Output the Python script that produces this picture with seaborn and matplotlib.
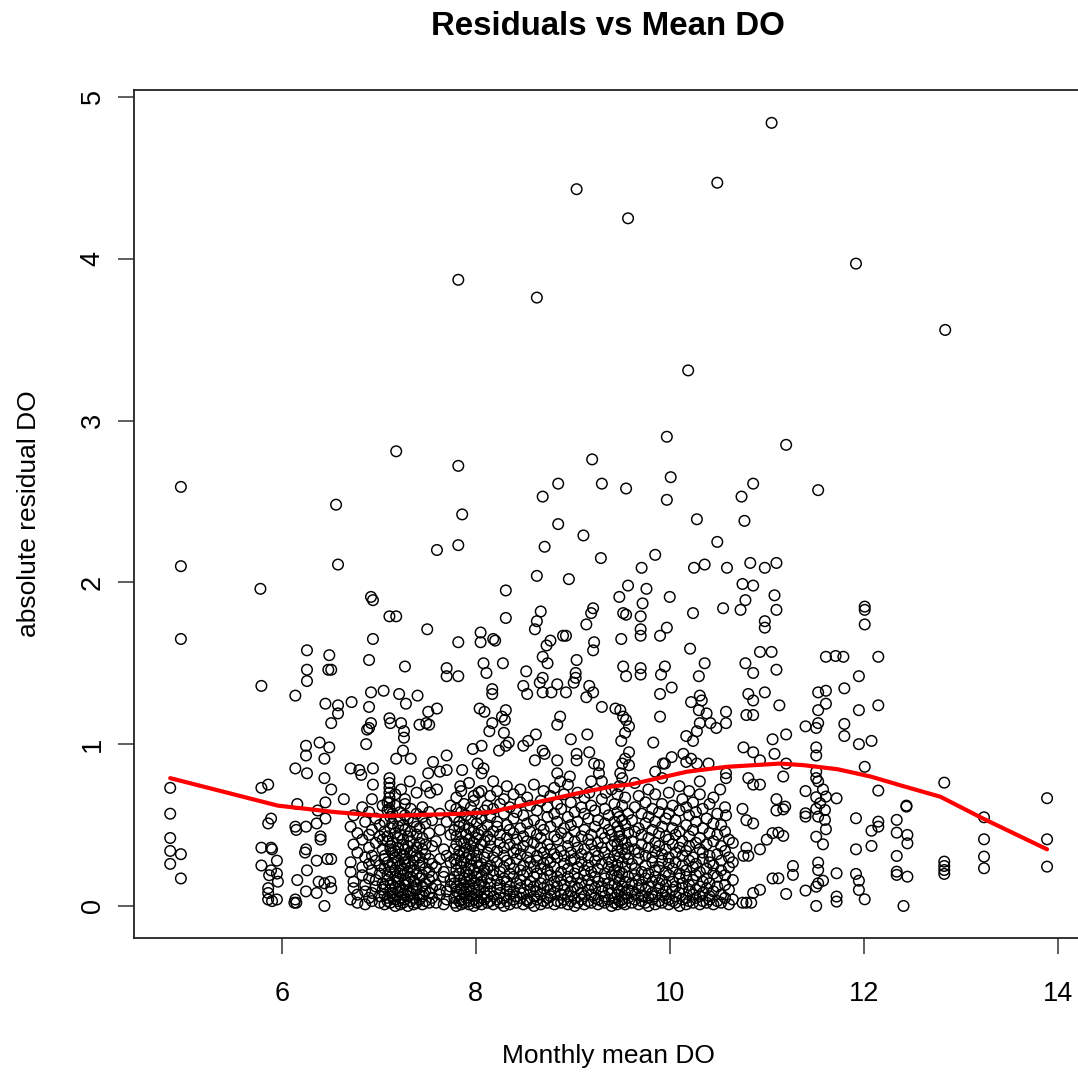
import matplotlib
matplotlib.use("Agg")
import matplotlib.pyplot as plt
import pandas as pd
import seaborn as sns

# ---------------------------------------------------------------
# Monthly mean dissolved oxygen (x) vs absolute model residual (y)
# ---------------------------------------------------------------

# large residuals (>= 2)
upper_do = [11.05, 10.49, 9.04, 9.57, 11.92, 7.82, 8.63, 12.84, 10.19, 9.97,
            11.20, 7.18, 9.20, 7.82, 10.01, 8.85, 9.30, 10.86, 4.96, 9.55,
            11.53, 8.69, 9.97, 10.74, 6.56, 7.86, 10.28, 10.77, 8.85, 9.11,
            10.49, 8.71, 7.82, 7.60, 9.85, 9.29, 4.96, 6.58, 9.71, 10.25,
            10.36, 10.59, 10.83, 10.98, 11.10, 8.63, 8.96]
upper_res = [4.84, 4.47, 4.43, 4.25, 3.97, 3.87, 3.76, 3.56, 3.31, 2.90,
             2.85, 2.81, 2.76, 2.72, 2.65, 2.61, 2.61, 2.61, 2.59, 2.58,
             2.57, 2.53, 2.51, 2.53, 2.48, 2.42, 2.39, 2.38, 2.36, 2.29,
             2.25, 2.22, 2.23, 2.20, 2.17, 2.15, 2.10, 2.11, 2.09, 2.09,
             2.11, 2.09, 2.12, 2.09, 2.12, 2.04, 2.02]

# low-DO sites (below 6.6)
low_do = [5.78, 4.96, 6.26, 6.49, 6.26, 6.48, 6.51, 6.26, 5.79, 6.14,
          6.45, 6.51, 6.25, 6.39, 6.25, 6.49, 6.44, 6.14, 6.26, 6.44,
          6.51, 4.85, 5.79, 5.86, 4.85, 6.16, 6.45, 6.37, 5.89, 5.86,
          6.14, 6.15, 6.25, 6.36, 6.45, 6.40, 6.40, 4.85, 4.85, 4.96,
          4.85, 4.96, 5.79, 5.89, 5.90, 5.79, 5.95, 5.89, 5.87, 5.95,
          5.96, 5.86, 5.86, 5.86, 5.95, 5.90, 6.24, 6.25, 6.36, 6.47,
          6.51, 6.26, 6.16, 6.38, 6.44, 6.50, 6.25, 6.36, 6.13, 6.15,
          6.14, 6.44, 6.51]
low_res = [1.96, 1.65, 1.58, 1.55, 1.46, 1.46, 1.46, 1.39, 1.36, 1.30,
           1.25, 1.13, 0.99, 1.01, 0.93, 0.98, 0.91, 0.85, 0.82, 0.79,
           0.72, 0.73, 0.73, 0.75, 0.57, 0.63, 0.64, 0.59, 0.54, 0.51,
           0.49, 0.47, 0.49, 0.51, 0.54, 0.43, 0.41, 0.42, 0.34, 0.32,
           0.26, 0.17, 0.36, 0.36, 0.35, 0.25, 0.28, 0.22, 0.19, 0.20,
           0.15, 0.11, 0.08, 0.04, 0.04, 0.03, 0.33, 0.35, 0.28, 0.29,
           0.29, 0.22, 0.16, 0.15, 0.14, 0.15, 0.09, 0.08, 0.02, 0.02,
           0.04, 0.00, 0.11]

# mid residuals, 6.6 - 8.2 mg/L
mid_a_do = [6.92, 6.94, 7.11, 7.18, 7.50, 6.94, 7.82, 8.05, 8.05, 6.90,
            7.27, 7.70, 7.82, 7.70, 8.08, 8.11, 6.92, 7.05, 7.21, 7.28,
            7.40, 6.72, 6.58, 6.58, 6.90, 7.11, 7.12, 7.23, 6.92, 6.90,
            6.88, 7.51, 7.60, 7.49, 7.42, 7.52, 7.26, 7.26, 6.87, 7.25,
            7.18, 7.33, 7.70, 7.97, 8.06, 8.02, 8.08, 8.06, 7.56, 7.63,
            7.51, 7.70, 7.86, 6.71, 6.80, 6.94, 6.82, 6.94, 7.11, 7.11,
            7.11, 7.11, 7.11, 7.11, 7.11, 7.23, 7.32, 7.39, 7.27, 7.49,
            7.53, 7.60, 7.84, 6.64, 7.98, 8.06]
mid_a_res = [1.91, 1.89, 1.79, 1.79, 1.71, 1.65, 1.63, 1.69, 1.63, 1.52,
             1.48, 1.47, 1.42, 1.42, 1.50, 1.44, 1.32, 1.33, 1.31, 1.25,
             1.30, 1.26, 1.24, 1.19, 1.23, 1.16, 1.13, 1.13, 1.13, 1.10,
             1.09, 1.20, 1.22, 1.13, 1.12, 1.12, 1.08, 1.04, 1.00, 0.96,
             0.91, 0.91, 0.93, 0.97, 0.99, 0.88, 0.85, 0.82, 0.89, 0.83,
             0.82, 0.84, 0.84, 0.85, 0.84, 0.85, 0.81, 0.75, 0.79, 0.76,
             0.73, 0.70, 0.67, 0.64, 0.60, 0.72, 0.77, 0.70, 0.66, 0.74,
             0.70, 0.72, 0.74, 0.66, 0.68, 0.71]

# mid residuals, 8.0 - 9.6 mg/L
mid_b_do = [8.31, 9.57, 8.31, 8.67, 8.63, 8.61, 9.14, 9.19, 9.21, 9.48,
            9.52, 9.55, 8.18, 8.20, 8.90, 8.93, 8.77, 8.73, 9.22, 9.21,
            8.69, 8.74, 9.04, 8.28, 8.52, 8.49, 8.53, 8.69, 8.66, 8.84,
            8.78, 8.69, 8.93, 9.03, 9.03, 9.01, 9.17, 9.21, 9.14, 9.52,
            9.55, 8.17, 8.17, 9.30, 9.44, 8.04, 8.09, 8.17, 8.14, 8.27,
            8.31, 8.30, 8.29, 8.34, 8.24, 8.31, 8.87, 8.84, 8.98, 9.15,
            8.49, 8.54, 8.62, 8.69, 8.71, 8.61, 8.84, 9.04, 9.04, 9.17,
            9.22, 9.27, 8.84, 8.87, 8.97, 9.27, 9.30, 9.34, 9.17, 9.49]
mid_b_res = [1.95, 1.98, 1.78, 1.82, 1.76, 1.71, 1.74, 1.81, 1.84, 1.91,
             1.81, 1.80, 1.65, 1.64, 1.67, 1.67, 1.64, 1.61, 1.63, 1.58,
             1.54, 1.50, 1.52, 1.50, 1.45, 1.36, 1.31, 1.41, 1.38, 1.37,
             1.32, 1.32, 1.32, 1.44, 1.41, 1.38, 1.36, 1.32, 1.29, 1.48,
             1.42, 1.34, 1.31, 1.23, 1.22, 1.22, 1.20, 1.13, 1.08, 1.17,
             1.21, 1.15, 1.07, 1.01, 0.96, 0.99, 1.17, 1.12, 1.03, 1.06,
             0.99, 1.02, 1.06, 0.96, 0.94, 0.90, 0.90, 0.94, 0.90, 0.95,
             0.88, 0.87, 0.82, 0.77, 0.80, 0.82, 0.77, 0.70, 0.70, 0.82]

# mid residuals, 9.5 - 11.2 mg/L
mid_c_do = [9.76, 10.00, 10.75, 10.86, 10.78, 10.73, 10.55, 11.08, 11.10, 9.72,
            9.70, 9.70, 9.70, 9.90, 9.97, 10.24, 9.50, 10.98, 10.98, 10.21,
            10.93, 11.05, 11.10, 10.36, 10.30, 10.78, 10.86, 9.70, 9.70, 9.95,
            9.91, 9.90, 10.02, 10.81, 10.86, 10.98, 11.13, 10.22, 10.31, 10.33,
            10.30, 10.38, 10.31, 10.28, 10.17, 10.24, 10.42, 10.48, 10.58, 10.58,
            10.79, 10.86, 9.49, 9.52, 9.55, 9.58, 9.54, 9.50, 9.58, 9.54,
            9.58, 9.51, 9.83, 9.90, 9.95, 10.02, 10.14, 10.17, 10.22, 10.28,
            10.40, 10.76, 10.86, 10.93, 11.06, 11.08, 9.85, 9.93]
mid_c_res = [1.96, 1.91, 1.99, 1.98, 1.89, 1.83, 1.84, 1.92, 1.83, 1.87,
             1.79, 1.71, 1.67, 1.67, 1.72, 1.81, 1.65, 1.76, 1.72, 1.59,
             1.57, 1.57, 1.46, 1.50, 1.42, 1.50, 1.44, 1.47, 1.43, 1.48,
             1.43, 1.31, 1.35, 1.31, 1.27, 1.32, 1.24, 1.26, 1.30, 1.27,
             1.21, 1.19, 1.13, 1.08, 1.05, 1.02, 1.13, 1.10, 1.20, 1.13,
             1.18, 1.18, 1.21, 1.17, 1.15, 1.11, 1.07, 1.02, 0.95, 0.91,
             0.87, 0.88, 1.01, 1.17, 0.88, 0.92, 0.94, 0.89, 0.91, 0.88,
             0.88, 0.98, 0.95, 0.90, 1.03, 0.94, 0.83, 0.88]

# sparse lower band, 10.5 - 11.2 mg/L
edge_do = [10.81, 10.86, 10.93, 10.58, 10.58, 10.52, 11.10, 11.10, 10.75, 10.57,
           10.58, 10.79, 10.86, 11.06, 11.00, 10.93, 10.79, 10.76, 10.81, 11.06,
           10.86, 10.93, 10.75, 10.79, 10.84]
edge_res = [0.79, 0.75, 0.75, 0.82, 0.79, 0.72, 0.66, 0.59, 0.60, 0.61,
            0.56, 0.53, 0.51, 0.45, 0.41, 0.35, 0.36, 0.31, 0.31, 0.17,
            0.08, 0.10, 0.02, 0.02, 0.02]

# high-DO sites (above 11.1)
high_do = [12.01, 12.01, 12.01, 11.61, 11.71, 11.79, 12.15, 11.95, 11.53, 11.61,
           11.61, 11.80, 12.15, 11.95, 11.53, 11.53, 11.51, 11.40, 11.80, 11.80,
           11.20, 11.95, 12.08, 11.51, 11.51, 12.01, 11.20, 11.17, 11.51, 11.51,
           11.53, 11.40, 11.58, 11.72, 11.61, 11.51, 11.55, 11.51, 11.40, 11.40,
           11.60, 11.60, 11.61, 11.51, 11.58, 11.53, 11.19, 11.17, 11.12, 11.17,
           12.15, 11.92, 12.08, 12.15, 12.15, 11.92, 12.08, 12.44, 12.44, 12.34,
           12.34, 12.45, 12.45, 12.34, 11.27, 11.27, 11.12, 11.20, 11.53, 11.53,
           11.58, 11.53, 11.51, 11.40, 11.51, 11.72, 11.72, 11.72, 11.92, 11.95,
           11.95, 12.01, 12.34, 12.34, 12.45, 12.41, 12.83, 13.24, 13.24, 13.24,
           13.24, 12.83, 12.83, 12.83, 12.83, 13.89, 13.89, 13.89]
high_res = [1.85, 1.83, 1.74, 1.54, 1.545, 1.54, 1.54, 1.42, 1.32, 1.33,
            1.25, 1.345, 1.24, 1.21, 1.21, 1.13, 1.10, 1.11, 1.125, 1.05,
            1.06, 1.00, 1.02, 0.98, 0.93, 0.86, 0.88, 0.80, 0.83, 0.79,
            0.77, 0.71, 0.72, 0.665, 0.676, 0.672, 0.635, 0.60, 0.573, 0.552,
            0.593, 0.532, 0.474, 0.428, 0.381, 0.552, 0.614, 0.597, 0.453, 0.433,
            0.713, 0.542, 0.465, 0.521, 0.49, 0.35, 0.371, 0.614, 0.62, 0.532,
            0.453, 0.439, 0.387, 0.309, 0.247, 0.192, 0.171, 0.074, 0.268, 0.222,
            0.156, 0.140, 0.119, 0.095, 0.0, 0.202, 0.058, 0.027, 0.198, 0.156,
            0.099, 0.041, 0.212, 0.192, 0.181, 0.0, 0.762, 0.548, 0.412, 0.305,
            0.233, 0.274, 0.247, 0.222, 0.198, 0.666, 0.412, 0.243]

# dense lower cloud: monthly mean per site, and the residuals at that mean
dense_a_do = [6.71, 6.74, 6.78, 6.83, 6.86, 6.90, 6.93, 6.97, 7.01, 7.04]
dense_a_res = [[0.04, 0.21, 0.27, 0.49],
               [0.11, 0.15, 0.38, 0.56],
               [0.02, 0.07, 0.33, 0.45],
               [0.19, 0.24, 0.41, 0.61],
               [0.01, 0.09, 0.13, 0.30, 0.52],
               [0.05, 0.17, 0.26, 0.36, 0.44, 0.58],
               [0.03, 0.08, 0.22, 0.31, 0.47, 0.66],
               [0.12, 0.16, 0.28, 0.39, 0.54],
               [0.02, 0.06, 0.20, 0.25, 0.43, 0.50],
               [0.10, 0.14, 0.35, 0.41, 0.62]]

dense_b_do = [7.06, 7.09, 7.12, 7.14, 7.17, 7.20, 7.22, 7.25, 7.27, 7.30,
              7.33, 7.36, 7.39, 7.42, 7.45, 7.48, 7.52, 7.55,
              7.59, 7.63, 7.67, 7.70, 7.74]
dense_b_res = [[0.01, 0.07, 0.12, 0.23, 0.29, 0.31, 0.46, 0.52],
               [0.03, 0.05, 0.16, 0.19, 0.27, 0.40, 0.43, 0.59, 0.64],
               [0.02, 0.10, 0.14, 0.21, 0.24, 0.35, 0.37, 0.48, 0.55],
               [0.06, 0.08, 0.13, 0.26, 0.33, 0.39, 0.51, 0.57],
               [0.00, 0.04, 0.11, 0.18, 0.22, 0.30, 0.34, 0.45, 0.62, 0.69],
               [0.03, 0.09, 0.15, 0.17, 0.28, 0.36, 0.42, 0.49],
               [0.01, 0.05, 0.12, 0.20, 0.25, 0.32, 0.44, 0.53, 0.58],
               [0.02, 0.07, 0.10, 0.19, 0.23, 0.31, 0.38, 0.41, 0.50],
               [0.04, 0.13, 0.16, 0.27, 0.29, 0.35, 0.47, 0.56, 0.63],
               [0.00, 0.06, 0.09, 0.14, 0.21, 0.26, 0.37, 0.43, 0.54],
               [0.03, 0.08, 0.18, 0.24, 0.33, 0.40, 0.46, 0.60],
               [0.01, 0.05, 0.11, 0.15, 0.22, 0.28, 0.34, 0.52],
               [0.02, 0.10, 0.13, 0.20, 0.31, 0.36, 0.44, 0.49, 0.57],
               [0.04, 0.07, 0.17, 0.25, 0.30, 0.39, 0.48],
               [0.01, 0.06, 0.12, 0.19, 0.27, 0.35, 0.42, 0.55, 0.61],
               [0.03, 0.09, 0.14, 0.23, 0.32, 0.38, 0.51],
               [0.02, 0.08, 0.16, 0.21, 0.29, 0.45, 0.58],
               [0.05, 0.11, 0.18, 0.26, 0.37, 0.53],
               [0.02, 0.13, 0.24, 0.40],
               [0.07, 0.10, 0.29, 0.47, 0.57],
               [0.01, 0.18, 0.21, 0.35],
               [0.04, 0.09, 0.31, 0.52],
               [0.12, 0.16, 0.27, 0.44, 0.62]]

dense_c_do = [7.78, 7.80, 7.83, 7.85, 7.88, 7.90, 7.93, 7.95, 7.98, 8.01,
              8.03, 8.06, 8.09, 8.12]
dense_c_res = [[0.02, 0.05, 0.14, 0.18, 0.29, 0.35, 0.47, 0.55],
               [0.00, 0.09, 0.12, 0.22, 0.26, 0.38, 0.43, 0.60, 0.67],
               [0.03, 0.07, 0.16, 0.20, 0.31, 0.34, 0.49, 0.52],
               [0.01, 0.04, 0.11, 0.24, 0.28, 0.40, 0.45, 0.58, 0.71],
               [0.02, 0.08, 0.13, 0.17, 0.27, 0.33, 0.39, 0.50, 0.63],
               [0.05, 0.10, 0.15, 0.21, 0.30, 0.36, 0.44, 0.56],
               [0.01, 0.03, 0.12, 0.19, 0.23, 0.32, 0.41, 0.48, 0.76],
               [0.06, 0.09, 0.16, 0.25, 0.29, 0.37, 0.53, 0.61],
               [0.00, 0.04, 0.11, 0.14, 0.22, 0.34, 0.39, 0.46, 0.65],
               [0.02, 0.07, 0.18, 0.20, 0.27, 0.31, 0.42, 0.51, 0.57],
               [0.03, 0.10, 0.13, 0.24, 0.35, 0.44, 0.70],
               [0.01, 0.05, 0.15, 0.19, 0.26, 0.38, 0.47, 0.54],
               [0.04, 0.08, 0.12, 0.22, 0.30, 0.40, 0.59],
               [0.02, 0.06, 0.17, 0.23, 0.33, 0.43, 0.50, 0.62]]

dense_d_do = [8.15, 8.18, 8.22, 8.25, 8.29, 8.32, 8.35, 8.39, 8.42, 8.46,
              8.49, 8.53, 8.56, 8.60, 8.63, 8.67, 8.70, 8.74, 8.77, 8.81,
              8.84]
dense_d_res = [[0.03, 0.09, 0.14, 0.25, 0.37, 0.41, 0.55, 0.68],
               [0.01, 0.06, 0.19, 0.22, 0.30, 0.46, 0.60, 0.77],
               [0.04, 0.11, 0.16, 0.27, 0.34, 0.49, 0.52, 0.71],
               [0.02, 0.08, 0.13, 0.21, 0.39, 0.44, 0.63],
               [0.00, 0.05, 0.17, 0.24, 0.31, 0.36, 0.57, 0.66],
               [0.03, 0.10, 0.15, 0.28, 0.42, 0.50, 0.74],
               [0.01, 0.07, 0.12, 0.20, 0.26, 0.38, 0.47, 0.61],
               [0.04, 0.09, 0.18, 0.23, 0.33, 0.45, 0.54, 0.69],
               [0.02, 0.06, 0.14, 0.29, 0.35, 0.41, 0.58],
               [0.05, 0.11, 0.16, 0.22, 0.32, 0.48, 0.64, 0.72],
               [0.01, 0.08, 0.19, 0.25, 0.37, 0.43, 0.56],
               [0.03, 0.04, 0.13, 0.21, 0.30, 0.40, 0.51, 0.67],
               [0.02, 0.10, 0.15, 0.27, 0.34, 0.46, 0.62],
               [0.00, 0.06, 0.12, 0.18, 0.24, 0.39, 0.53, 0.75],
               [0.04, 0.09, 0.20, 0.28, 0.31, 0.44, 0.59],
               [0.01, 0.07, 0.14, 0.23, 0.36, 0.42, 0.50, 0.65],
               [0.03, 0.11, 0.17, 0.26, 0.33, 0.47, 0.71],
               [0.02, 0.05, 0.13, 0.22, 0.29, 0.38, 0.55, 0.61],
               [0.06, 0.10, 0.19, 0.27, 0.35, 0.49, 0.68],
               [0.01, 0.08, 0.15, 0.24, 0.32, 0.43, 0.57, 0.73],
               [0.03, 0.12, 0.18, 0.30, 0.41, 0.52, 0.63]]

dense_e_do = [8.88, 8.91, 8.95, 8.98, 9.02, 9.05, 9.09, 9.12, 9.16, 9.19,
              9.23, 9.26, 9.30, 9.33, 9.37, 9.40, 9.43, 9.46, 9.48, 9.51,
              9.54, 9.57]
dense_e_res = [[0.02, 0.07, 0.16, 0.21, 0.34, 0.45, 0.60],
               [0.04, 0.10, 0.13, 0.26, 0.31, 0.48, 0.69],
               [0.01, 0.06, 0.18, 0.23, 0.37, 0.42, 0.55, 0.75],
               [0.03, 0.09, 0.15, 0.28, 0.33, 0.50, 0.64],
               [0.00, 0.05, 0.12, 0.20, 0.29, 0.40, 0.46, 0.58],
               [0.02, 0.11, 0.17, 0.24, 0.36, 0.52, 0.70],
               [0.04, 0.08, 0.14, 0.27, 0.32, 0.43, 0.61],
               [0.01, 0.06, 0.19, 0.22, 0.35, 0.47, 0.57, 0.67],
               [0.03, 0.10, 0.16, 0.25, 0.30, 0.41, 0.54],
               [0.02, 0.07, 0.13, 0.21, 0.38, 0.44, 0.62, 0.77],
               [0.05, 0.11, 0.18, 0.28, 0.34, 0.49, 0.59],
               [0.01, 0.04, 0.15, 0.23, 0.31, 0.39, 0.53],
               [0.03, 0.09, 0.12, 0.26, 0.36, 0.45, 0.66],
               [0.02, 0.06, 0.17, 0.20, 0.33, 0.42, 0.51, 0.60],
               [0.04, 0.10, 0.14, 0.24, 0.29, 0.47, 0.56],
               [0.00, 0.08, 0.19, 0.27, 0.37, 0.44, 0.72],
               [0.02, 0.05, 0.13, 0.22, 0.31, 0.40, 0.52, 0.63],
               [0.01, 0.07, 0.11, 0.18, 0.25, 0.34, 0.38, 0.49, 0.58, 0.69],
               [0.03, 0.09, 0.16, 0.21, 0.30, 0.43, 0.46, 0.55, 0.74],
               [0.02, 0.04, 0.12, 0.20, 0.27, 0.35, 0.41, 0.53, 0.62, 0.79],
               [0.01, 0.08, 0.15, 0.24, 0.32, 0.39, 0.50, 0.67],
               [0.05, 0.10, 0.18, 0.29, 0.36, 0.45, 0.57]]

dense_f_do = [9.61, 9.64, 9.68, 9.71, 9.75, 9.78, 9.82, 9.85, 9.89, 9.92,
              9.96, 9.99, 10.03, 10.06, 10.10, 10.13, 10.17, 10.20, 10.24, 10.27,
              10.31, 10.34, 10.38, 10.41, 10.45, 10.49, 10.53, 10.57, 10.61, 10.65]
dense_f_res = [[0.02, 0.09, 0.14, 0.26, 0.40, 0.53],
               [0.04, 0.07, 0.19, 0.23, 0.35, 0.46, 0.61, 0.76],
               [0.01, 0.11, 0.16, 0.29, 0.33, 0.48, 0.68],
               [0.03, 0.06, 0.13, 0.21, 0.38, 0.44, 0.57],
               [0.02, 0.10, 0.17, 0.25, 0.31, 0.51, 0.64],
               [0.00, 0.05, 0.12, 0.20, 0.36, 0.42, 0.55, 0.72],
               [0.04, 0.08, 0.15, 0.27, 0.30, 0.47, 0.60],
               [0.01, 0.06, 0.18, 0.22, 0.34, 0.39, 0.52, 0.69],
               [0.03, 0.11, 0.14, 0.24, 0.37, 0.45, 0.58],
               [0.02, 0.07, 0.16, 0.28, 0.32, 0.49, 0.63, 0.79],
               [0.05, 0.09, 0.13, 0.21, 0.35, 0.43, 0.54],
               [0.01, 0.04, 0.19, 0.26, 0.30, 0.41, 0.57, 0.70],
               [0.03, 0.10, 0.15, 0.23, 0.38, 0.48, 0.62],
               [0.02, 0.06, 0.12, 0.27, 0.33, 0.44, 0.53],
               [0.00, 0.08, 0.17, 0.20, 0.36, 0.46, 0.59, 0.74],
               [0.04, 0.11, 0.14, 0.25, 0.31, 0.40, 0.66],
               [0.01, 0.05, 0.18, 0.22, 0.34, 0.50, 0.61],
               [0.03, 0.09, 0.13, 0.28, 0.37, 0.43, 0.56, 0.71],
               [0.02, 0.07, 0.16, 0.24, 0.30, 0.47, 0.64],
               [0.05, 0.10, 0.19, 0.26, 0.39, 0.52, 0.58],
               [0.01, 0.06, 0.12, 0.21, 0.35, 0.42, 0.69, 0.77],
               [0.03, 0.08, 0.15, 0.29, 0.33, 0.48, 0.60],
               [0.02, 0.11, 0.17, 0.23, 0.38, 0.54],
               [0.04, 0.06, 0.14, 0.27, 0.31, 0.45, 0.63],
               [0.01, 0.09, 0.20, 0.25, 0.40, 0.51, 0.67],
               [0.03, 0.12, 0.18, 0.32, 0.44, 0.57],
               [0.02, 0.07, 0.22, 0.28, 0.37, 0.50],
               [0.05, 0.13, 0.19, 0.34, 0.46],
               [0.01, 0.10, 0.24, 0.30, 0.41],
               [0.04, 0.16, 0.27, 0.39]]

# lowess smooth of the residuals
smooth_do = [4.85, 5.96, 6.55, 7.04, 7.87, 8.15, 8.38, 8.74, 9.08, 9.42,
             9.59, 10.18, 10.59, 11.14, 11.38, 11.73, 12.07, 12.41, 12.79, 13.23,
             13.89]
smooth_res = [0.79, 0.62, 0.58, 0.556, 0.57, 0.58, 0.61, 0.655, 0.70, 0.74,
              0.75, 0.83, 0.86, 0.88, 0.87, 0.845, 0.80, 0.74, 0.675, 0.54,
              0.35]

x_ticks = [6, 8, 10, 12, 14]
y_ticks = [0, 1, 2, 3, 4, 5]


def expand(site_means, residual_columns):
    xs, ys = [], []
    for mean, col in zip(site_means, residual_columns):
        xs.extend([mean] * len(col))
        ys.extend(col)
    return xs, ys


frames = []
for xs, ys in [(upper_do, upper_res), (low_do, low_res), (mid_a_do, mid_a_res),
               (mid_b_do, mid_b_res), (mid_c_do, mid_c_res), (edge_do, edge_res),
               (high_do, high_res),
               expand(dense_a_do, dense_a_res), expand(dense_b_do, dense_b_res),
               expand(dense_c_do, dense_c_res), expand(dense_d_do, dense_d_res),
               expand(dense_e_do, dense_e_res), expand(dense_f_do, dense_f_res)]:
    frames.append(pd.DataFrame({"do": xs, "res": ys}))
df = pd.concat(frames, ignore_index=True)
smooth = pd.DataFrame({"do": smooth_do, "res": smooth_res})

sns.set_style("ticks")
plt.rcParams["font.family"] = ["Liberation Sans", "DejaVu Sans"]
plt.rcParams["text.color"] = "black"
plt.rcParams["axes.labelcolor"] = "black"

fig = plt.figure(figsize=(10.78, 10.74), dpi=100)
ax = fig.add_axes([0.1246, 0.1264, 0.8791, 0.7898])

sns.scatterplot(data=df, x="do", y="res", ax=ax, marker="o", s=58,
                facecolors="none", edgecolor="black", linewidth=1.05,
                legend=False, zorder=2)
sns.lineplot(data=smooth, x="do", y="res", ax=ax, color="#ff0000", lw=3.0,
             estimator=None, sort=False, legend=False, zorder=3)

ax.set_xlim(4.48, 14.25)
ax.set_ylim(-0.1996, 5.043)
ax.set_xticks(x_ticks)
ax.set_yticks(y_ticks)
ax.set_xticklabels([str(t) for t in x_ticks])
ax.set_yticklabels([str(t) for t in y_ticks])

for side in ["left", "bottom", "top", "right"]:
    ax.spines[side].set_visible(True)
    ax.spines[side].set_color("#222222")
    ax.spines[side].set_linewidth(1.3)

ax.tick_params(axis="both", direction="out", length=11.5, width=1.1,
               color="#333333", labelsize=19.5, labelcolor="black")
ax.tick_params(axis="x", pad=19)
ax.tick_params(axis="y", pad=9, labelrotation=90)
for lab in ax.get_yticklabels():
    lab.set_verticalalignment("center")

ax.set_xlabel("Monthly mean DO", fontsize=19, labelpad=27, color="black")
ax.set_ylabel("absolute residual DO", fontsize=19, labelpad=28, color="black")
ax.set_title("Residuals vs Mean DO", fontsize=23.8, fontweight="bold",
             pad=39.6, color="black")

fig.savefig("out.png", dpi=100, facecolor="white")
